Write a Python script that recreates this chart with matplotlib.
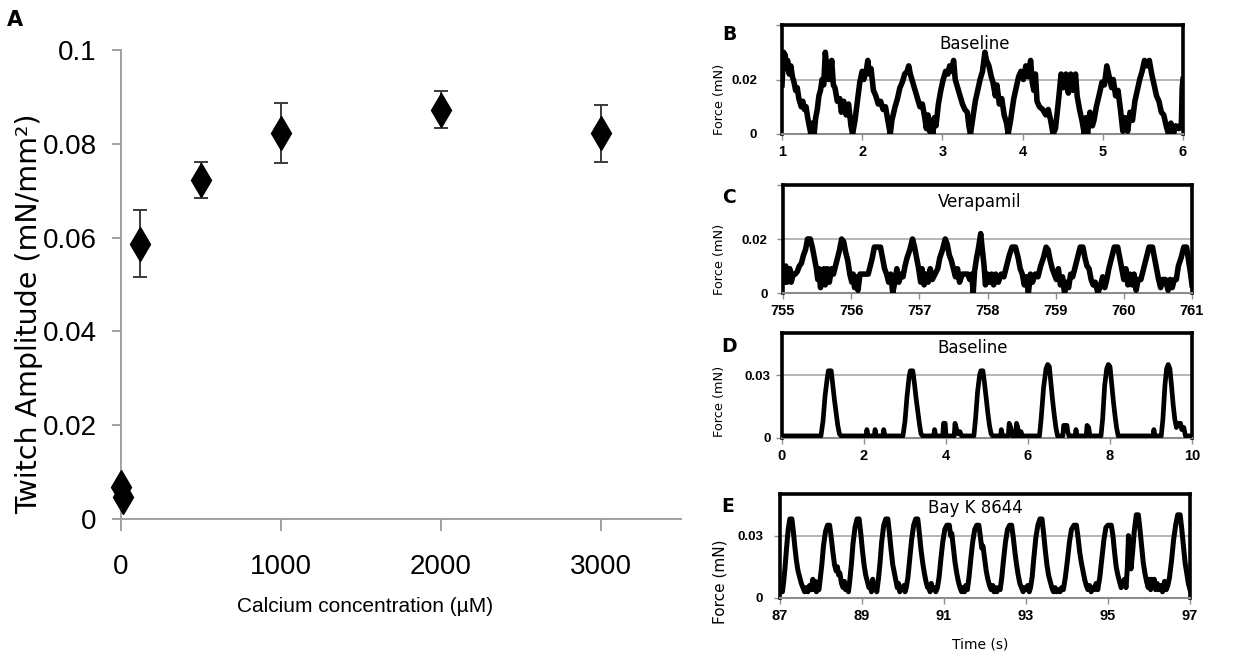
import numpy as np
import matplotlib.pyplot as plt

# ---- panel A: twitch amplitude against bath calcium ----
calcium_uM = [0, 10, 120, 500, 1000, 2000, 3000]
twitch_amp = [0.0068, 0.0047, 0.0587, 0.0723, 0.0822, 0.0873, 0.0822]
twitch_err = [0.0, 0.0, 0.0072, 0.0038, 0.0064, 0.0039, 0.0060]
a_xticks = [0, 1000, 2000, 3000]
a_yticks = [0, 0.02, 0.04, 0.06, 0.08, 0.1]
a_yticklabels = ['0', '0.02', '0.04', '0.06', '0.08', '0.1']

# ---- panels B-E: force traces, (time s, force uN) ----
baseline_b = [
    (1.00, 18), (1.01, 24), (1.02, 30), (1.03, 27), (1.04, 29), (1.05, 24), (1.07, 27), (1.09, 22),
    (1.11, 25), (1.13, 21), (1.15, 19), (1.17, 16), (1.19, 17), (1.21, 13), (1.24, 10), (1.26, 12),
    (1.28, 9), (1.30, 10), (1.32, 6), (1.34, 3), (1.36, 0), (1.38, 4), (1.40, 0), (1.42, 6), (1.44, 9),
    (1.46, 14), (1.48, 16), (1.50, 20), (1.52, 18), (1.54, 30), (1.56, 24), (1.58, 20), (1.60, 22),
    (1.62, 27), (1.64, 18), (1.66, 17), (1.69, 12), (1.72, 13), (1.74, 8), (1.77, 12), (1.80, 7),
    (1.83, 11), (1.86, 3), (1.88, 0), (1.91, 5),
    (1.94, 12), (1.97, 19), (2.00, 23), (2.02, 20), (2.05, 23), (2.07, 27), (2.09, 22), (2.11, 24),
    (2.14, 16), (2.17, 14), (2.20, 11), (2.23, 12), (2.26, 9), (2.29, 10), (2.32, 5), (2.35, 0), (2.37, 5),
    (2.41, 10), (2.44, 13), (2.47, 17), (2.50, 19), (2.53, 22), (2.56, 23), (2.58, 25), (2.60, 22),
    (2.63, 19), (2.66, 16), (2.69, 13), (2.72, 10), (2.75, 11), (2.78, 6), (2.80, 2), (2.82, 7),
    (2.84, 1), (2.86, 5), (2.88, 0), (2.90, 6), (2.92, 3),
    (2.95, 11), (2.98, 16), (3.01, 20), (3.04, 23), (3.07, 22), (3.09, 25), (3.11, 23), (3.14, 27),
    (3.16, 20), (3.19, 17), (3.22, 14), (3.25, 11), (3.28, 9), (3.31, 8), (3.33, 3), (3.35, 0), (3.37, 4),
    (3.41, 12), (3.44, 16), (3.47, 20), (3.50, 23), (3.53, 30), (3.55, 27), (3.58, 25), (3.61, 21),
    (3.63, 19), (3.66, 14), (3.68, 18), (3.71, 11), (3.74, 13), (3.77, 7), (3.80, 4), (3.82, 0), (3.85, 5),
    (3.89, 13), (3.92, 17), (3.95, 21), (3.98, 23), (4.01, 20), (4.04, 25), (4.07, 21), (4.10, 27),
    (4.12, 19), (4.14, 16), (4.16, 22), (4.18, 12), (4.21, 10), (4.25, 9), (4.29, 7), (4.32, 9),
    (4.35, 5), (4.38, 0), (4.41, 2),
    (4.45, 13), (4.48, 22), (4.51, 17), (4.54, 22), (4.57, 15), (4.60, 22), (4.63, 16), (4.66, 22),
    (4.68, 14), (4.71, 9), (4.74, 5), (4.77, 0), (4.79, 6), (4.81, 0), (4.84, 8), (4.87, 3), (4.89, 5),
    (4.92, 10), (4.96, 15), (4.99, 19), (5.02, 18), (5.05, 25), (5.08, 21), (5.11, 17), (5.13, 20),
    (5.16, 14), (5.19, 16), (5.22, 9), (5.25, 1), (5.28, 6), (5.31, 1), (5.34, 8), (5.37, 5),
    (5.40, 12), (5.43, 16), (5.46, 20), (5.49, 23), (5.52, 27), (5.55, 25), (5.58, 27), (5.61, 22),
    (5.64, 18), (5.67, 14), (5.70, 12), (5.73, 8), (5.76, 7), (5.79, 3), (5.82, 0), (5.85, 4),
    (5.88, 0), (5.91, 3), (5.95, 2), (5.98, 4), (5.99, 17), (6.00, 20),
]

verapamil_c = [
    (755.00, 8), (755.02, 4), (755.04, 10), (755.06, 4), (755.08, 7), (755.10, 9), (755.12, 4),
    (755.15, 7), (755.18, 7), (755.21, 8), (755.24, 10), (755.27, 11), (755.30, 14), (755.33, 16),
    (755.36, 20), (755.40, 20), (755.43, 17), (755.46, 13), (755.49, 9), (755.51, 5), (755.53, 9),
    (755.55, 2), (755.58, 7), (755.60, 9), (755.62, 3), (755.65, 9), (755.68, 4), (755.71, 9),
    (755.74, 7), (755.77, 10), (755.80, 13), (755.83, 16), (755.86, 20), (755.89, 19), (755.92, 15),
    (755.95, 12), (755.98, 7), (756.01, 4), (756.03, 7), (756.05, 2), (756.07, 6), (756.10, 1),
    (756.13, 7), (756.17, 7), (756.21, 7), (756.25, 7), (756.28, 10), (756.31, 13), (756.34, 17),
    (756.39, 17), (756.43, 17), (756.46, 13), (756.49, 9), (756.52, 7), (756.55, 4), (756.58, 7),
    (756.61, 0), (756.64, 4), (756.67, 9), (756.70, 4), (756.73, 7), (756.76, 6), (756.79, 10),
    (756.82, 13), (756.86, 16), (756.90, 20), (756.93, 17), (756.96, 13), (756.99, 9), (757.02, 4),
    (757.04, 9), (757.07, 3), (757.10, 7), (757.13, 4), (757.16, 9), (757.19, 5), (757.23, 7),
    (757.27, 9), (757.30, 13), (757.34, 16), (757.38, 20), (757.41, 18), (757.44, 14), (757.47, 12),
    (757.50, 9), (757.53, 6), (757.56, 9), (757.59, 4), (757.63, 7), (757.67, 7), (757.71, 7),
    (757.74, 5), (757.77, 7), (757.79, 0), (757.81, 8), (757.84, 13), (757.87, 17), (757.90, 22),
    (757.92, 17), (757.95, 10), (757.97, 3), (758.00, 7), (758.03, 4), (758.06, 7), (758.09, 3),
    (758.12, 7), (758.16, 4), (758.20, 7), (758.24, 6), (758.28, 10), (758.32, 14), (758.36, 17),
    (758.41, 17), (758.45, 13), (758.48, 9), (758.51, 7), (758.54, 3), (758.57, 6), (758.60, 0),
    (758.63, 7), (758.66, 4), (758.70, 7), (758.74, 6), (758.78, 10), (758.82, 13), (758.86, 17),
    (758.89, 16), (758.92, 12), (758.95, 9), (758.98, 7), (759.01, 5), (759.04, 9), (759.07, 3),
    (759.10, 6), (759.13, 0), (759.16, 4), (759.19, 2), (759.22, 7), (759.25, 6), (759.28, 9),
    (759.32, 13), (759.36, 17), (759.40, 17), (759.43, 13), (759.46, 10), (759.49, 9), (759.52, 5),
    (759.55, 3), (759.58, 4), (759.62, 0), (759.66, 3), (759.69, 6), (759.72, 2), (759.75, 5),
    (759.78, 9), (759.82, 13), (759.86, 17), (759.91, 17), (759.94, 13), (759.97, 9), (760.00, 5),
    (760.03, 9), (760.06, 3), (760.09, 7), (760.12, 3), (760.15, 7), (760.18, 1), (760.21, 5),
    (760.25, 5), (760.29, 9), (760.33, 13), (760.37, 17), (760.42, 17), (760.45, 13), (760.48, 9),
    (760.51, 5), (760.54, 2), (760.57, 5), (760.61, 5), (760.65, 1), (760.68, 5), (760.71, 2),
    (760.74, 5), (760.77, 5), (760.80, 10), (760.84, 13), (760.88, 17), (760.92, 17), (760.95, 12),
    (760.98, 7), (761.00, 3),
]

baseline_d = [
    (0.00, 1), (0.95, 1), (1.00, 8), (1.05, 20), (1.10, 28), (1.13, 32), (1.20, 32), (1.24, 25),
    (1.28, 18), (1.32, 12), (1.36, 6), (1.40, 2), (1.44, 1), (2.05, 1), (2.07, 4), (2.10, 1),
    (2.25, 1), (2.27, 4), (2.30, 1), (2.46, 1), (2.48, 4), (2.51, 1), (2.95, 1), (3.00, 8),
    (3.05, 20), (3.10, 29), (3.13, 32), (3.19, 32), (3.23, 26), (3.27, 19), (3.31, 13), (3.35, 7),
    (3.39, 2), (3.43, 1), (3.70, 1), (3.72, 4), (3.75, 1), (3.92, 1), (3.94, 7), (3.98, 7),
    (4.00, 1), (4.20, 1), (4.22, 7), (4.26, 4), (4.30, 2), (4.34, 3), (4.38, 1), (4.68, 1),
    (4.72, 9), (4.77, 22), (4.82, 30), (4.85, 32), (4.90, 32), (4.94, 26), (4.98, 19), (5.02, 12),
    (5.06, 6), (5.10, 2), (5.14, 1), (5.33, 1), (5.35, 4), (5.38, 1), (5.52, 1), (5.54, 7),
    (5.58, 5), (5.62, 1), (5.70, 1), (5.72, 7), (5.75, 5), (5.78, 1), (5.83, 3), (5.86, 1),
    (6.28, 1), (6.32, 9), (6.38, 24), (6.44, 33), (6.48, 35), (6.52, 34), (6.56, 26), (6.60, 18),
    (6.64, 11), (6.68, 5), (6.72, 1), (6.85, 1), (6.87, 6), (6.95, 6), (6.97, 3), (7.00, 1),
    (7.15, 1), (7.17, 4), (7.20, 1), (7.42, 1), (7.44, 6), (7.48, 5), (7.51, 1), (7.78, 1),
    (7.82, 9), (7.87, 25), (7.92, 33), (7.96, 35), (8.00, 34), (8.04, 26), (8.08, 18), (8.12, 11),
    (8.16, 5), (8.20, 1), (9.05, 1), (9.07, 4), (9.10, 1), (9.25, 1), (9.29, 9), (9.34, 25),
    (9.38, 33), (9.42, 35), (9.46, 33), (9.50, 25), (9.54, 16), (9.58, 9), (9.62, 5), (9.65, 7),
    (9.72, 7), (9.75, 4), (9.80, 5), (9.84, 1), (10.00, 1),
]

bay_k_e = [
    (87.00, 3), (87.03, 7), (87.06, 3), (87.09, 8), (87.12, 14), (87.16, 24), (87.20, 33), (87.24, 38),
    (87.29, 38), (87.32, 33), (87.36, 25), (87.40, 18), (87.44, 13), (87.48, 10), (87.52, 7), (87.56, 5),
    (87.60, 3), (87.64, 5), (87.68, 3), (87.72, 6), (87.76, 4), (87.80, 9), (87.83, 4), (87.86, 8),
    (87.89, 3), (87.92, 5), (87.95, 4),
    (87.98, 9), (88.02, 16), (88.06, 25), (88.11, 32), (88.16, 35), (88.21, 35), (88.25, 29), (88.29, 22),
    (88.33, 16), (88.37, 13), (88.40, 15), (88.43, 11), (88.46, 12), (88.50, 7), (88.54, 5), (88.57, 8),
    (88.60, 4), (88.64, 6), (88.67, 3),
    (88.70, 8), (88.74, 16), (88.78, 26), (88.83, 34), (88.88, 38), (88.93, 38), (88.97, 31), (89.01, 23),
    (89.05, 16), (89.09, 11), (89.13, 8), (89.17, 5), (89.20, 7), (89.23, 3), (89.26, 9), (89.29, 4),
    (89.33, 6), (89.36, 3),
    (89.40, 9), (89.44, 17), (89.48, 27), (89.53, 35), (89.58, 38), (89.63, 38), (89.67, 31), (89.71, 23),
    (89.75, 16), (89.79, 12), (89.83, 8), (89.86, 5), (89.89, 7), (89.92, 3), (89.95, 5), (89.98, 4),
    (90.02, 6), (90.05, 3), (90.08, 5),
    (90.12, 10), (90.16, 18), (90.21, 28), (90.26, 35), (90.31, 38), (90.36, 38), (90.40, 31), (90.44, 23),
    (90.48, 17), (90.52, 12), (90.56, 8), (90.60, 5), (90.63, 6), (90.66, 3), (90.69, 7), (90.72, 4),
    (90.76, 5), (90.80, 3), (90.84, 5),
    (90.88, 10), (90.92, 18), (90.97, 27), (91.02, 33), (91.07, 35), (91.13, 35), (91.16, 30), (91.19, 31),
    (91.23, 24), (91.27, 17), (91.31, 12), (91.35, 8), (91.39, 5), (91.43, 3), (91.46, 5), (91.50, 3),
    (91.53, 6), (91.57, 4),
    (91.61, 10), (91.65, 18), (91.70, 27), (91.75, 33), (91.80, 35), (91.85, 35), (91.89, 29), (91.92, 24),
    (91.95, 25), (91.99, 19), (92.03, 13), (92.07, 9), (92.11, 6), (92.15, 4), (92.19, 6), (92.22, 3),
    (92.25, 5), (92.29, 3), (92.33, 5), (92.37, 4),
    (92.41, 10), (92.45, 18), (92.50, 27), (92.55, 33), (92.60, 35), (92.65, 35), (92.69, 29), (92.73, 22),
    (92.77, 16), (92.81, 11), (92.85, 7), (92.89, 5), (92.93, 3), (92.96, 5), (93.00, 4), (93.04, 6),
    (93.08, 3), (93.11, 5),
    (93.15, 10), (93.19, 19), (93.24, 29), (93.29, 35), (93.34, 38), (93.39, 38), (93.43, 31), (93.47, 23),
    (93.51, 16), (93.55, 11), (93.59, 8), (93.63, 5), (93.67, 3), (93.71, 5), (93.75, 3), (93.79, 4),
    (93.83, 3), (93.87, 5), (93.91, 4),
    (93.96, 10), (94.01, 18), (94.06, 27), (94.11, 33), (94.17, 35), (94.23, 35), (94.27, 29), (94.31, 22),
    (94.35, 17), (94.39, 13), (94.43, 9), (94.47, 6), (94.51, 4), (94.55, 6), (94.59, 3), (94.63, 5),
    (94.67, 4), (94.71, 7), (94.75, 4),
    (94.80, 10), (94.85, 19), (94.90, 28), (94.95, 34), (95.00, 35), (95.08, 35), (95.12, 30), (95.16, 22),
    (95.20, 15), (95.24, 11), (95.28, 8), (95.32, 5), (95.36, 7), (95.40, 9), (95.44, 5), (95.47, 14),
    (95.50, 30), (95.53, 22), (95.56, 14), (95.60, 22), (95.64, 32), (95.69, 40), (95.74, 40), (95.78, 33),
    (95.82, 25), (95.86, 17), (95.90, 12), (95.94, 8), (95.98, 5), (96.01, 9), (96.04, 4), (96.07, 9),
    (96.10, 5), (96.13, 9), (96.16, 4), (96.20, 7), (96.24, 4), (96.28, 6), (96.33, 3), (96.38, 8),
    (96.42, 4), (96.46, 6),
    (96.50, 10), (96.55, 18), (96.60, 28), (96.65, 35), (96.70, 40), (96.76, 40), (96.80, 33), (96.84, 25),
    (96.88, 17), (96.92, 12), (96.96, 7), (97.00, 4),
]

sans = ['Liberation Sans', 'DejaVu Sans']
plain = ['DejaVu Sans']

W, H = 1234, 655
fig = plt.figure(figsize=(W / 100, H / 100), dpi=100)


def box(left, top, right, bottom):
    # pixel edges -> figure fraction rect
    return [left / W, 1 - bottom / H, (right - left) / W, (bottom - top) / H]


# ---------------- panel A ----------------
ax = fig.add_axes(box(121, 50, 681, 519))
ax.set_xlim(0, 3500)
ax.set_ylim(0, 0.1)
for side in ('top', 'right'):
    ax.spines[side].set_visible(False)
for side in ('left', 'bottom'):
    ax.spines[side].set_color('#9a9a9a')
    ax.spines[side].set_linewidth(1.3)
ax.set_xticks(a_xticks)
ax.set_yticks(a_yticks)
ax.set_yticklabels(a_yticklabels)
ax.tick_params(axis='x', length=8.5, width=1.3, color='#9a9a9a', pad=17, labelsize=20)
ax.tick_params(axis='y', length=6.5, width=1.3, color='#9a9a9a', pad=11, labelsize=20)
for lab in ax.get_xticklabels() + ax.get_yticklabels():
    lab.set_fontfamily(sans)

has_err = [i for i, e in enumerate(twitch_err) if e > 0]
ax.errorbar([calcium_uM[i] for i in has_err], [twitch_amp[i] for i in has_err],
            yerr=[twitch_err[i] for i in has_err], fmt='none', ecolor='#3a3a3a',
            elinewidth=1.4, capsize=5, capthick=1.4, zorder=2)
ax.plot(calcium_uM, twitch_amp, linestyle='none', marker='d', ms=17,
        color='black', clip_on=False, zorder=3)

fig.text(15 / W, 1 - 20 / H, 'A', fontsize=15, fontweight='bold', family=plain,
         ha='center', va='center')
fig.text(29 / W, 1 - 314 / H, 'Twitch Amplitude (mN/mm²)', fontsize=20.5,
         family=plain, rotation=90, ha='center', va='center')
fig.text(365 / W, 1 - 607 / H, 'Calcium concentration (µM)', fontsize=15,
         family=sans, ha='center', va='center')


# ---------------- panels B-E ----------------
def trace_panel(rect, pairs, xlim, xticks, ylim, yticks, yticklabels, grid_y,
                title, title_pos, ypad, lw):
    t, f = zip(*pairs)
    f = np.array(f) / 1000.0  # uN -> mN
    a = fig.add_axes(rect)
    a.set_xlim(*xlim)
    a.set_ylim(*ylim)
    a.axhline(grid_y, color='#b5b5b5', lw=1.4, zorder=1)
    a.plot(t, f, color='black', lw=lw, zorder=3)
    for side in ('top', 'right', 'left'):
        a.spines[side].set_color('black')
        a.spines[side].set_linewidth(2.6)
    a.spines['bottom'].set_color('#8c8c8c')
    a.spines['bottom'].set_linewidth(1.5)
    a.set_xticks(xticks)
    a.set_yticks(yticks)
    a.set_yticklabels(yticklabels)
    a.tick_params(axis='both', direction='out', length=4, width=1, color='#8c8c8c')
    a.tick_params(axis='x', pad=4, labelsize=10.5)
    a.tick_params(axis='y', pad=ypad, labelsize=9.5)
    for lab in a.get_xticklabels() + a.get_yticklabels():
        lab.set_fontfamily(sans)
        lab.set_fontweight('bold')
    a.text(title_pos[0], title_pos[1], title, transform=a.transAxes, fontsize=12,
           family=plain, ha='center', va='center', zorder=5)
    return a


trace_panel(box(782, 25, 1183, 134), baseline_b, (1, 6), [1, 2, 3, 4, 5, 6],
            (0, 0.04), [0, 0.02, 0.04], ['0', '0.02', ''], 0.02,
            'Baseline', (0.48, 0.83), 14, 4.0)
trace_panel(box(783, 185, 1192, 293), verapamil_c, (755, 761),
            [755, 756, 757, 758, 759, 760, 761],
            (0, 0.04), [0, 0.02, 0.04], ['0', '0.02', ''], 0.02,
            'Verapamil', (0.48, 0.84), 7, 4.0)
trace_panel(box(782, 333, 1192, 438), baseline_d, (0, 10), [0, 2, 4, 6, 8, 10],
            (0, 0.05), [0, 0.03], ['0', '0.03'], 0.03,
            'Baseline', (0.466, 0.86), 4, 3.4)
trace_panel(box(780, 494, 1190, 598), bay_k_e, (87, 97), [87, 89, 91, 93, 95, 97],
            (0, 0.05), [0, 0.03], ['0', '0.03'], 0.03,
            'Bay K 8644', (0.476, 0.87), 8, 3.6)

for letter, lx, ly in (('B', 729, 35), ('C', 729, 197), ('D', 729, 347), ('E', 728, 507)):
    fig.text(lx / W, 1 - ly / H, letter, fontsize=13.5, fontweight='bold', family=plain,
             ha='center', va='center')

for ly, fs in ((99, 9.3), (259, 9.3), (401, 9.3), (582, 11)):
    fig.text(720 / W, 1 - ly / H, 'Force (mN)', fontsize=fs, family=plain,
             rotation=90, ha='center', va='center')

fig.text(980 / W, 1 - 645 / H, 'Time (s)', fontsize=10, family=plain,
         ha='center', va='center')

fig.savefig('out.png', dpi=100)
